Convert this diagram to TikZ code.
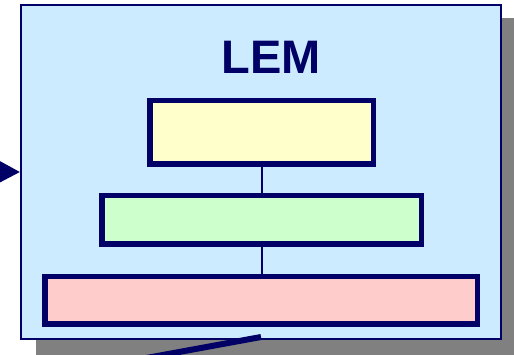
\documentclass[tikz,border=0pt]{standalone}
\usepackage{fontspec}
\setmainfont{Liberation Sans}
\usetikzlibrary{arrows.meta}
\definecolor{navy}{RGB}{0,0,102}
\definecolor{lemblue}{RGB}{204,235,255}
\definecolor{lemyellow}{RGB}{255,255,204}
\definecolor{lemgreen}{RGB}{204,255,204}
\definecolor{lempink}{RGB}{255,204,204}
\definecolor{shadowgray}{RGB}{128,128,128}
\tikzset{
  layerbox/.style={draw=navy, line width=5.5pt, inner sep=0pt},
  link/.style={draw=navy, line width=2pt},
}
\begin{document}
\begin{tikzpicture}[x=1pt,y=-1pt]
\useasboundingbox (0,0) rectangle (514,355);
\fill[shadowgray] (36,18) rectangle (530,370);
\node[draw=navy, fill=lemblue, line width=2.2pt, inner sep=0pt, minimum width=480pt, minimum height=334pt] (lem) at (261,172) {};
\node[text=navy, font=\fontsize{47}{47}\selectfont\bfseries] (title) at (271.5,57) {LEM};
\node[layerbox, fill=lemyellow, minimum width=223.5pt, minimum height=63.5pt] (top) at (261.5,132.5) {};
\node[layerbox, fill=lemgreen, minimum width=319.5pt, minimum height=48.5pt] (mid) at (261.5,220) {};
\node[layerbox, fill=lempink, minimum width=432.5pt, minimum height=47.5pt] (bot) at (261,300.5) {};
\draw[link] (top.south) -- (mid.north);
\draw[link] (mid.south -| top.south) -- (bot.north -| top.south);
\coordinate (inA) at (-40,171.5);
\draw[navy, line width=2pt, -{Triangle[length=22pt,width=23pt]}] (inA) -- (lem.west);
\coordinate (outB) at (70,372);
\coordinate (lemS) at (261,337);
\draw[navy, line width=6pt] (lemS) -- (outB);
\end{tikzpicture}
\end{document}
